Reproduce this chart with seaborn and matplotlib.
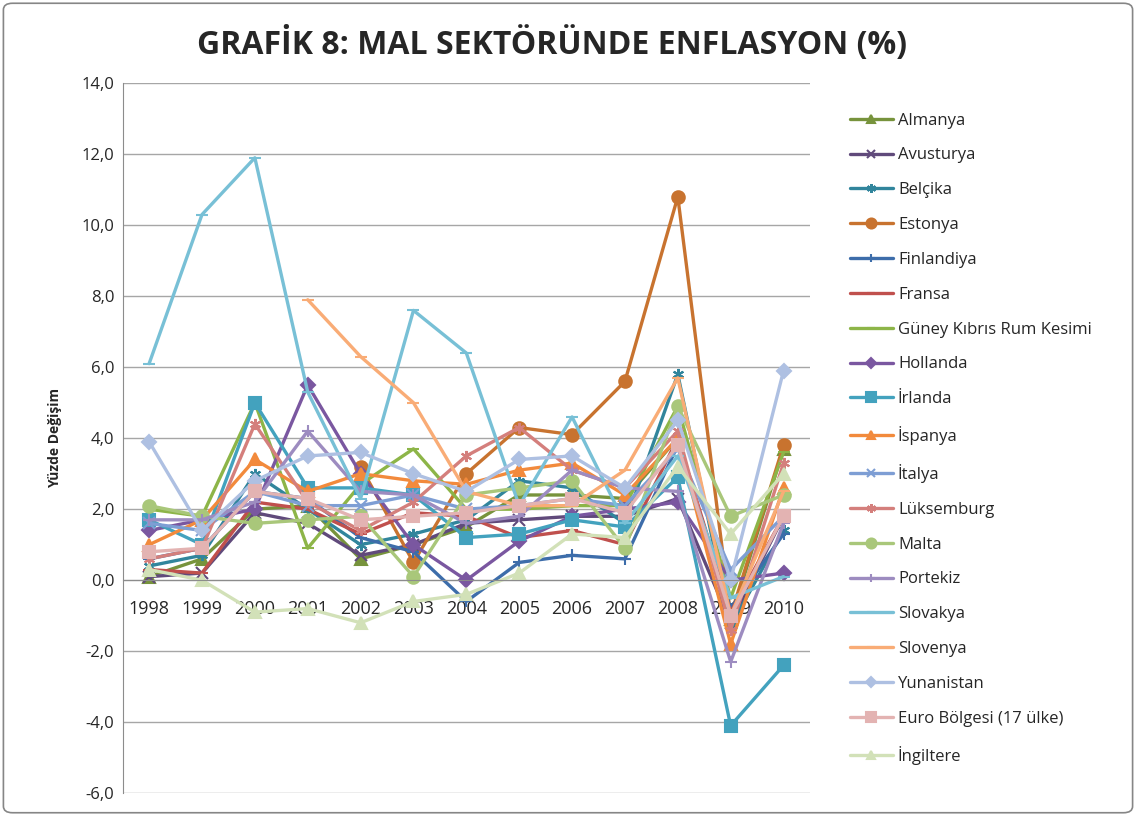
import numpy as np
import pandas as pd
import seaborn as sns
import matplotlib.pyplot as plt
from matplotlib.patches import FancyBboxPatch
from matplotlib.ticker import FuncFormatter

yillar = ['1998', '1999', '2000', '2001', '2002', '2003', '2004', '2005', '2006', '2007', '2008', '2009', '2010']
nan = np.nan

almanya = [0.1, 0.6, 2.0, 2.1, 0.6, 1.0, 1.5, 2.4, 2.4, 2.3, 4.0, -1.1, 3.7]
avusturya = [0.1, 0.2, 1.9, 1.6, 0.7, 1.0, 1.6, 1.7, 1.8, 1.8, 2.3, -1.2, 1.8]
belcika = [0.4, 0.7, 3.0, 2.0, 1.0, 1.3, 1.7, 2.8, 2.6, 1.6, 5.8, -1.3, 1.4]
estonya = [nan, nan, nan, nan, 3.2, 0.5, 3.0, 4.3, 4.1, 5.6, 10.8, -1.0, 3.8]
finlandiya = [0.6, 0.9, 2.5, 2.3, 1.2, 0.8, -0.6, 0.5, 0.7, 0.6, 3.8, -0.8, 1.3]
fransa = [0.3, 0.2, 2.2, 2.0, 1.3, 1.9, 1.8, 1.2, 1.4, 1.0, 4.0, -0.9, 1.8]
gkrk = [2.0, 1.8, 5.0, 0.9, 2.7, 3.7, 2.0, 2.0, 2.1, 2.1, 4.9, -0.5, 3.6]
hollanda = [1.4, 1.7, 2.0, 5.5, 3.0, 1.0, 0.0, 1.1, 1.8, 2.0, 2.2, 0.0, 0.2]
irlanda = [1.7, 1.0, 5.0, 2.6, 2.6, 2.4, 1.2, 1.3, 1.7, 1.5, 2.9, -4.1, -2.4]
ispanya = [1.0, 1.7, 3.4, 2.5, 3.0, 2.8, 2.7, 3.1, 3.3, 2.4, 4.0, -1.8, 2.6]
italya = [1.6, 1.4, 2.5, 2.1, 2.1, 2.4, 2.0, 2.1, 2.3, 2.1, 3.7, 0.3, 1.8]
luksemburg = [0.6, 0.9, 4.4, 2.2, 1.4, 2.2, 3.5, 4.3, 3.1, 2.6, 4.2, -1.4, 3.3]
malta = [2.1, 1.8, 1.6, 1.7, 1.8, 0.1, 2.4, 2.6, 2.8, 0.9, 4.9, 1.8, 2.4]
portekiz = [1.7, 1.7, 2.2, 4.2, 2.5, 2.4, 1.6, 1.8, 3.1, 2.6, 2.5, -2.3, 1.6]
slovakya = [6.1, 10.3, 11.9, 5.3, 2.3, 7.6, 6.4, 2.1, 4.6, 1.6, 3.5, -0.5, 0.1]
slovenya = [nan, nan, nan, 7.9, 6.3, 5.0, 2.5, 2.1, 2.1, 3.1, 5.7, -1.0, 2.5]
yunanistan = [3.9, 1.4, 2.8, 3.5, 3.6, 3.0, 2.5, 3.4, 3.5, 2.6, 4.5, 0.0, 5.9]
euro = [0.8, 0.9, 2.5, 2.3, 1.7, 1.8, 1.9, 2.1, 2.3, 1.9, 3.8, -1.0, 1.8]
ingiltere = [0.3, 0.0, -0.9, -0.8, -1.2, -0.6, -0.4, 0.2, 1.3, 1.2, 3.2, 1.3, 3.0]

seriler = [
    ('Almanya', almanya, '#77933C', '^'),
    ('Avusturya', avusturya, '#604A7B', 'x'),
    ('Belçika', belcika, '#31859C', (6, 2, 0)),
    ('Estonya', estonya, '#C8732F', 'o'),
    ('Finlandiya', finlandiya, '#3D6DAA', '+'),
    ('Fransa', fransa, '#C0504D', '_'),
    ('Güney Kıbrıs Rum Kesimi', gkrk, '#8DB548', '_'),
    ('Hollanda', hollanda, '#7A57A0', 'D'),
    ('İrlanda', irlanda, '#43A2BE', 's'),
    ('İspanya', ispanya, '#F28A3C', '^'),
    ('İtalya', italya, '#7E9ED4', 'x'),
    ('Lüksemburg', luksemburg, '#D47F7C', (6, 2, 0)),
    ('Malta', malta, '#A9C77A', 'o'),
    ('Portekiz', portekiz, '#9D8CC0', '+'),
    ('Slovakya', slovakya, '#78C0D6', '_'),
    ('Slovenya', slovenya, '#F9AC76', '_'),
    ('Yunanistan', yunanistan, '#AEC0E2', 'D'),
    ('Euro Bölgesi (17 ülke)', euro, '#E3B3B2', 's'),
    ('İngiltere', ingiltere, '#D2E1B8', '^'),
]

sns.set_style('white')
plt.rcParams['font.family'] = ['Open Sans', 'DejaVu Sans']

fig = plt.figure(figsize=(11.36, 8.16), dpi=100)
ax = fig.add_axes([0.108, 0.028, 0.605, 0.87])

x = np.arange(len(yillar))
for ad, degerler, renk, isaret in seriler:
    df = pd.DataFrame({'x': x, 'y': degerler}).dropna()
    boy = 9 if isaret in ('s', 'o') else 8
    if isaret == 'D':
        boy = 7
    sns.lineplot(data=df, x='x', y='y', ax=ax, color=renk, marker=isaret,
                 markersize=boy, linewidth=2.4, markeredgecolor=renk,
                 markeredgewidth=1.5, label=ad)

ax.set_xlim(-0.5, len(yillar) - 0.5)
ax.set_ylim(-6, 14)
ax.set_yticks(np.arange(-6, 15, 2))
ax.yaxis.set_major_formatter(FuncFormatter(lambda v, p: f'{v:.1f}'.replace('.', ',')))
ax.set_xticks(x)
ax.set_xticklabels(yillar)
ax.grid(axis='y', color='#A6A6A6', linewidth=1)
ax.set_axisbelow(True)
ax.spines['bottom'].set_position(('data', 0))
ax.spines['bottom'].set_color('#8C8C8C')
ax.spines['left'].set_color('#8C8C8C')
ax.spines['top'].set_visible(False)
ax.spines['right'].set_visible(False)
ax.tick_params(axis='y', labelsize=12, length=0, pad=6)
ax.tick_params(axis='x', labelsize=13, length=0, pad=14)
ax.set_xlabel('')
ax.set_ylabel('Yüzde Değişim', fontsize=10, fontweight='bold', labelpad=14)

leg = ax.legend(loc='upper left', bbox_to_anchor=(1.048, 0.968), frameon=False,
                fontsize=12, labelspacing=1.13, handlelength=2.6, handletextpad=0.3,
                borderaxespad=0, markerscale=0.8)

fig.text(0.486, 0.945, 'GRAFİK 8: MAL SEKTÖRÜNDE ENFLASYON (%)', ha='center', va='center',
         fontsize=23, fontweight='bold')

kenar = FancyBboxPatch((0.003, 0.004), 0.994, 0.992, boxstyle='round,pad=0,rounding_size=0.008',
                       transform=fig.transFigure, fill=False, edgecolor='#868686', linewidth=1.2)
fig.patches.append(kenar)

fig.savefig('out.png', dpi=100)
